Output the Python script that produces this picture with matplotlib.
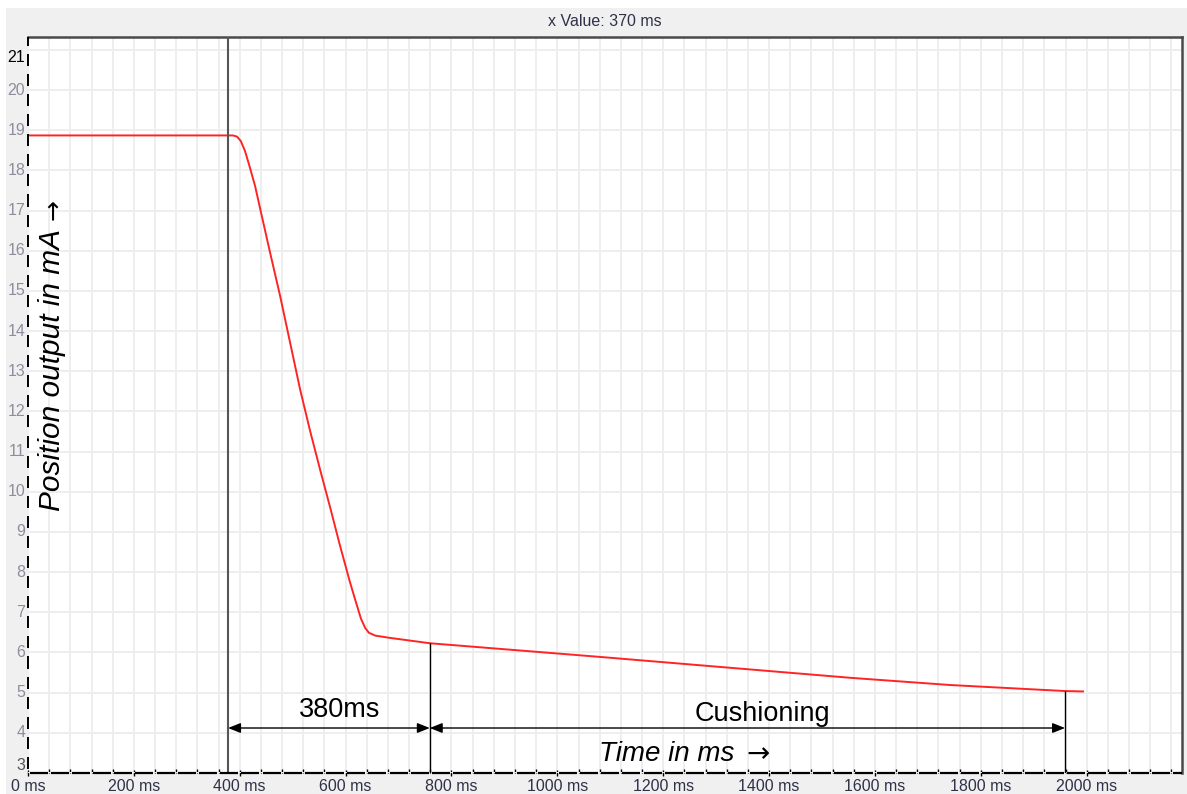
import numpy as np
import matplotlib
matplotlib.use("Agg")
import matplotlib.pyplot as plt
from matplotlib.patches import Rectangle

plt.rcParams['font.family'] = ['Liberation Sans', 'DejaVu Sans']

# ---- data ----
time_ms = [0, 380, 387, 395, 402, 410, 419, 429, 438, 457, 476, 495, 514,
           533, 552, 571, 589, 608, 620, 629, 637, 644, 656, 680, 759, 1080,
           1553, 1742, 1959, 1993]
current_mA = [18.87, 18.87, 18.87, 18.84, 18.73, 18.48, 18.08, 17.61, 17.08,
              15.97, 14.89, 13.72, 12.55, 11.51, 10.54, 9.60, 8.68, 7.76,
              7.23, 6.84, 6.61, 6.49, 6.42, 6.37, 6.23, 5.89, 5.37, 5.19,
              5.04, 5.03]
cursor_ms = 378
drop_end_ms = 759
cushion_end_ms = 1959
x_ticks = [0, 200, 400, 600, 800, 1000, 1200, 1400, 1600, 1800, 2000]
x_tick_labels = [f"{t} ms" for t in x_ticks]
y_ticks = list(range(3, 22))
title_text = "x Value: 370 ms"
span1_label = "380ms"
span2_label = "Cushioning"
xlabel_text = "Time in ms"
ylabel_text = "Position output in mA"
arrow_char = "\u2192"

W, H = 1187, 794
fig = plt.figure(figsize=(W / 100, H / 100), dpi=100)
fig.patch.set_facecolor('#f0f0f0')
# white margins at top / left
fig.add_artist(Rectangle((0, 1 - 8 / H), 1, 8 / H, transform=fig.transFigure,
                         facecolor='white', edgecolor='none', zorder=0))
fig.add_artist(Rectangle((0, 0), 6 / W, 1, transform=fig.transFigure,
                         facecolor='white', edgecolor='none', zorder=0))

L, R, B, T = 28 / W, 1182 / W, (H - 773) / H, (H - 37) / H
ax = fig.add_axes([L, B, R - L, T - B])
ax.set_facecolor('white')
xmin, xmax = 0, 2180
ymin, ymax = 3, 21.32
ax.set_xlim(xmin, xmax)
ax.set_ylim(ymin, ymax)

# grid
ax.set_xticks(np.arange(0, xmax, 40), minor=True)
ax.set_xticks(x_ticks)
ax.set_xticklabels(x_tick_labels)
ax.set_yticks(y_ticks)
ax.set_yticklabels([str(v) for v in y_ticks])
ax.grid(True, which='both', color='#eeeeee', linewidth=1.4, zorder=0)
ax.set_axisbelow(True)

ax.tick_params(axis='x', which='major', direction='inout', length=5, width=1,
               colors='black', labelcolor='#2e3148', labelsize=11.5, pad=2)
ax.tick_params(axis='x', which='minor', direction='in', length=3, width=1,
               colors='black')
ax.tick_params(axis='y', which='major', length=0, labelcolor='#8c8e9e',
               labelsize=11.5, pad=2)
for lbl, v in zip(ax.get_yticklabels(), y_ticks):
    if v == y_ticks[-1]:
        lbl.set_va('top'); lbl.set_color('black')
    elif v == y_ticks[0]:
        lbl.set_va('bottom'); lbl.set_color('#555555')
    else:
        lbl.set_va('center')

# spines
for s in ['left', 'bottom']:
    ax.spines[s].set_visible(False)
for s in ['top', 'right']:
    ax.spines[s].set_color('#4a4a4a')
    ax.spines[s].set_linewidth(1.8)

# broken bottom axis line
cells = np.arange(0, xmax, 40)
ax.hlines([ymin] * len(cells), cells + 3, np.minimum(cells + 37, xmax),
          colors='black', linewidth=1.6, clip_on=False, zorder=5)
# broken left axis line
ys = np.arange(ymin, ymax, 0.5)
ax.vlines([xmin] * len(ys), ys + 0.1, np.minimum(ys + 0.4, ymax),
          colors='black', linewidth=1.4, clip_on=False, zorder=5)

# curve
ax.plot(time_ms, current_mA, color='#ff2424', linewidth=1.4, zorder=4,
        solid_joinstyle='round')

# cursor line
ax.axvline(cursor_ms, color='#555555', linewidth=1.5, zorder=4)

# dimension lines
y_drop = np.interp(drop_end_ms, time_ms, current_mA)
y_cush = np.interp(cushion_end_ms, time_ms, current_mA)
ax.vlines([drop_end_ms, cushion_end_ms], [ymin, ymin], [y_drop, y_cush],
          colors='black', linewidth=1.0, zorder=4)

arrow_y = 4.12
arrowprops = dict(arrowstyle='<|-|>,head_length=0.75,head_width=0.3',
                  mutation_scale=10, color='black', lw=1.0,
                  shrinkA=0, shrinkB=0)
ax.annotate('', xy=(drop_end_ms, arrow_y), xytext=(cursor_ms, arrow_y),
            arrowprops=arrowprops, zorder=5)
ax.annotate('', xy=(cushion_end_ms, arrow_y), xytext=(drop_end_ms, arrow_y),
            arrowprops=arrowprops, zorder=5)

ax.text((cursor_ms + drop_end_ms) / 2 + 20, 4.57, span1_label, fontsize=19.5,
        ha='center', va='center', color='black', zorder=6)
ax.text(1388, 4.47, span2_label, fontsize=19.5, ha='center', va='center',
        color='black', zorder=6)

# axis titles with arrows
ax.text(1079, 3.47, xlabel_text, fontsize=20, style='italic', ha='left',
        va='center', color='black', zorder=6)
ax.text(1380, 3.47, arrow_char, fontsize=20, ha='center', va='center',
        color='black', family=['DejaVu Sans'], zorder=6)
ax.text(0.021, 0.548, ylabel_text, transform=ax.transAxes, fontsize=21.5,
        style='italic', rotation=90, ha='center', va='center', color='black',
        zorder=6)
ax.text(0.022, 0.765, arrow_char, transform=ax.transAxes, fontsize=18,
        rotation=90, ha='center', va='center', color='black',
        family=['DejaVu Sans'], zorder=6)

fig.text((L + R) / 2, 1 - 22 / H, title_text, fontsize=11.5, ha='center',
         va='center', color='#2e3148')

fig.savefig('out.png', dpi=100, facecolor=fig.get_facecolor())
